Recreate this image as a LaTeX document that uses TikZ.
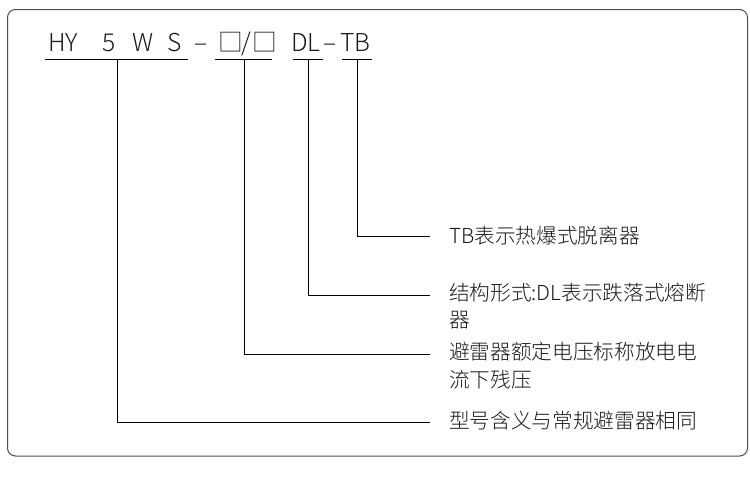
\documentclass[tikz,border=0pt]{standalone}
\usepackage{fontspec}
\setmainfont{Noto Sans CJK SC}[UprightFont={* Light}]
\begin{document}
\begin{tikzpicture}[x=0.75pt,y=-0.75pt,
  txt/.style={anchor=base west,inner sep=0pt,outer sep=0pt,text=black!90,font=\fontsize{15.5pt}{20pt}\selectfont},
  code/.style={txt,font=\fontsize{18.5pt}{22pt}\selectfont},
  ln/.style={draw=black,line width=0.75pt},
  frame/.style={draw=black!70,line width=0.75pt,rounded corners=6pt}]
\useasboundingbox (0,0) rectangle (750,483);
\draw[frame] (7.5,9.5) rectangle (747.5,456);
% top code
\node[code] (hy) at (48,51) {HY};
\node[code] (five) at (102,51) {5};
\node[code] (w) at (132,51) {W};
\node[code] (s) at (167,51) {S};
\node[code] (d1) at (194,51) {–};
\node[code] (sq1) at (218,51) {□};
\node[code] (sl) at (241,51) {/};
\node[code] (sq2) at (252,51) {□};
\node[code] (dl) at (291,51) {DL};
\node[code] (d2) at (323,51) {–};
\node[code] (tb) at (340,51) {TB};
% underlines
\coordinate (u1a) at (45,59); \coordinate (u1b) at (188,59); \coordinate (u1m) at (117,59);
\coordinate (u2a) at (215,59); \coordinate (u2b) at (272,59); \coordinate (u2m) at (244,59);
\coordinate (u3a) at (293,59); \coordinate (u3b) at (323,59); \coordinate (u3m) at (308,59);
\coordinate (u4a) at (342,59); \coordinate (u4b) at (372,59); \coordinate (u4m) at (357,59);
\draw[ln] (u1a) -- (u1b);
\draw[ln] (u2a) -- (u2b);
\draw[ln] (u3a) -- (u3b);
\draw[ln] (u4a) -- (u4b);
% labels
\node[txt] (l4) at (449,243) {TB表示热爆式脱离器};
\node[txt] (l3a) at (449,300) {结构形式:DL表示跌落式熔断};
\node[txt] (l3b) at (449,327) {器};
\node[txt] (l2a) at (449,359) {避雷器额定电压标称放电电};
\node[txt] (l2b) at (449,387) {流下残压};
\node[txt] (l1) at (449,428) {型号含义与常规避雷器相同};
% connector ends
\coordinate (e4) at (430,236);
\coordinate (e3) at (430,295);
\coordinate (e2) at (430,354);
\coordinate (e1) at (430,422);
\draw[ln] (u4m) |- (e4);
\draw[ln] (u3m) |- (e3);
\draw[ln] (u2m) |- (e2);
\draw[ln] (u1m) |- (e1);
\end{tikzpicture}
\end{document}
